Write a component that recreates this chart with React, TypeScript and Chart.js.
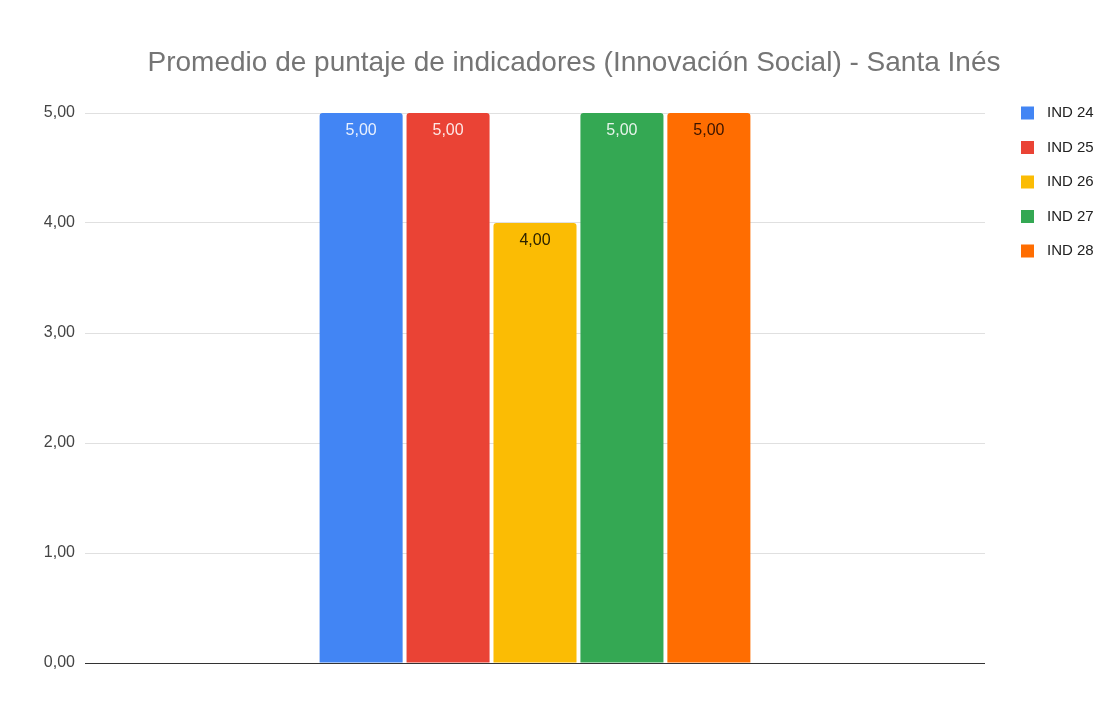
import React, { useEffect, useRef } from "react";
import { Chart, registerables } from "chart.js";

Chart.register(...registerables);

const categories: string[] = [""];
const seriesLabels: string[] = ["IND 24", "IND 25", "IND 26", "IND 27", "IND 28"];
const seriesValues: number[] = [5, 5, 4, 5, 5];
const seriesColors: string[] = ["#4285F4", "#EA4335", "#FBBC04", "#34A853", "#FF6D01"];
const labelColors: string[] = ["#e8f0fe", "#fde8e6", "#2b2200", "#e6f4ea", "#3a1400"];
const yTicks: number[] = [0, 1, 2, 3, 4, 5];
const titleText = "Promedio de puntaje de indicadores (Innovación Social) - Santa Inés";

const FONT = "'Liberation Sans', Arial, sans-serif";

const fmt = (v: number) => v.toFixed(2).replace(".", ",");

const titlePlugin = {
  id: "customTitle",
  afterDraw(chart: any) {
    const ctx = chart.ctx;
    ctx.save();
    ctx.font = `28px ${FONT}`;
    ctx.fillStyle = "#757575";
    ctx.textAlign = "center";
    ctx.textBaseline = "middle";
    ctx.fillText(titleText, 574, 63);
    ctx.restore();
  },
};

const valueLabels = {
  id: "valueLabels",
  afterDatasetsDraw(chart: any) {
    const ctx = chart.ctx;
    ctx.save();
    ctx.font = `16px ${FONT}`;
    ctx.textAlign = "center";
    ctx.textBaseline = "middle";
    chart.data.datasets.forEach((ds: any, i: number) => {
      const meta = chart.getDatasetMeta(i);
      meta.data.forEach((el: any, j: number) => {
        ctx.fillStyle = labelColors[i];
        ctx.fillText(fmt(ds.data[j]), el.x, el.y + 18);
      });
    });
    ctx.restore();
  },
};

const sideLegend = {
  id: "sideLegend",
  afterDraw(chart: any) {
    const ctx = chart.ctx;
    const top = chart.chartArea.top;
    ctx.save();
    ctx.font = `15px ${FONT}`;
    ctx.textBaseline = "middle";
    ctx.textAlign = "left";
    chart.data.datasets.forEach((ds: any, i: number) => {
      const cy = top + i * 34.5;
      ctx.fillStyle = ds.backgroundColor;
      ctx.fillRect(1021, cy - 6.5, 13, 13);
      ctx.fillStyle = "#222222";
      ctx.fillText(ds.label, 1047, cy);
    });
    ctx.restore();
  },
};

export default function App() {
  const ref = useRef<HTMLCanvasElement>(null);

  useEffect(() => {
    document.body.style.margin = "0";
    const canvas = ref.current;
    if (!canvas) return;
    const chart = new Chart(canvas, {
      type: "bar",
      data: {
        labels: categories,
        datasets: seriesLabels.map((label, i) => ({
          label,
          data: [seriesValues[i]],
          backgroundColor: seriesColors[i],
          borderRadius: { topLeft: 3, topRight: 3, bottomLeft: 0, bottomRight: 0 },
          borderSkipped: false,
          barPercentage: 0.955,
          categoryPercentage: 0.483,
        })),
      },
      options: {
        responsive: false,
        animation: false,
        layout: { padding: { top: 113, left: 0, right: 123, bottom: 41 } },
        plugins: {
          legend: { display: false },
          tooltip: { enabled: false },
          title: { display: false },
        },
        scales: {
          x: { display: false },
          y: {
            min: 0,
            max: 5,
            afterFit: (scale: any) => {
              scale.width = 85;
            },
            afterBuildTicks: (scale: any) => {
              scale.ticks = yTicks.map((v) => ({ value: v }));
            },
            ticks: {
              color: "#444444",
              padding: 10,
              font: { family: FONT, size: 16 },
              callback: (v: any) => fmt(Number(v)),
            },
            grid: {
              drawTicks: false,
              color: (c: any) => (c.tick && c.tick.value === 0 ? "#333333" : "#e0e0e0"),
              lineWidth: 1,
            },
            border: { display: false },
          },
        },
      },
      plugins: [titlePlugin, valueLabels, sideLegend],
    });
    return () => chart.destroy();
  }, []);

  return (
    <div style={{ width: 1108, height: 704, background: "#ffffff" }}>
      <canvas ref={ref} width={1108} height={704} />
    </div>
  );
}
